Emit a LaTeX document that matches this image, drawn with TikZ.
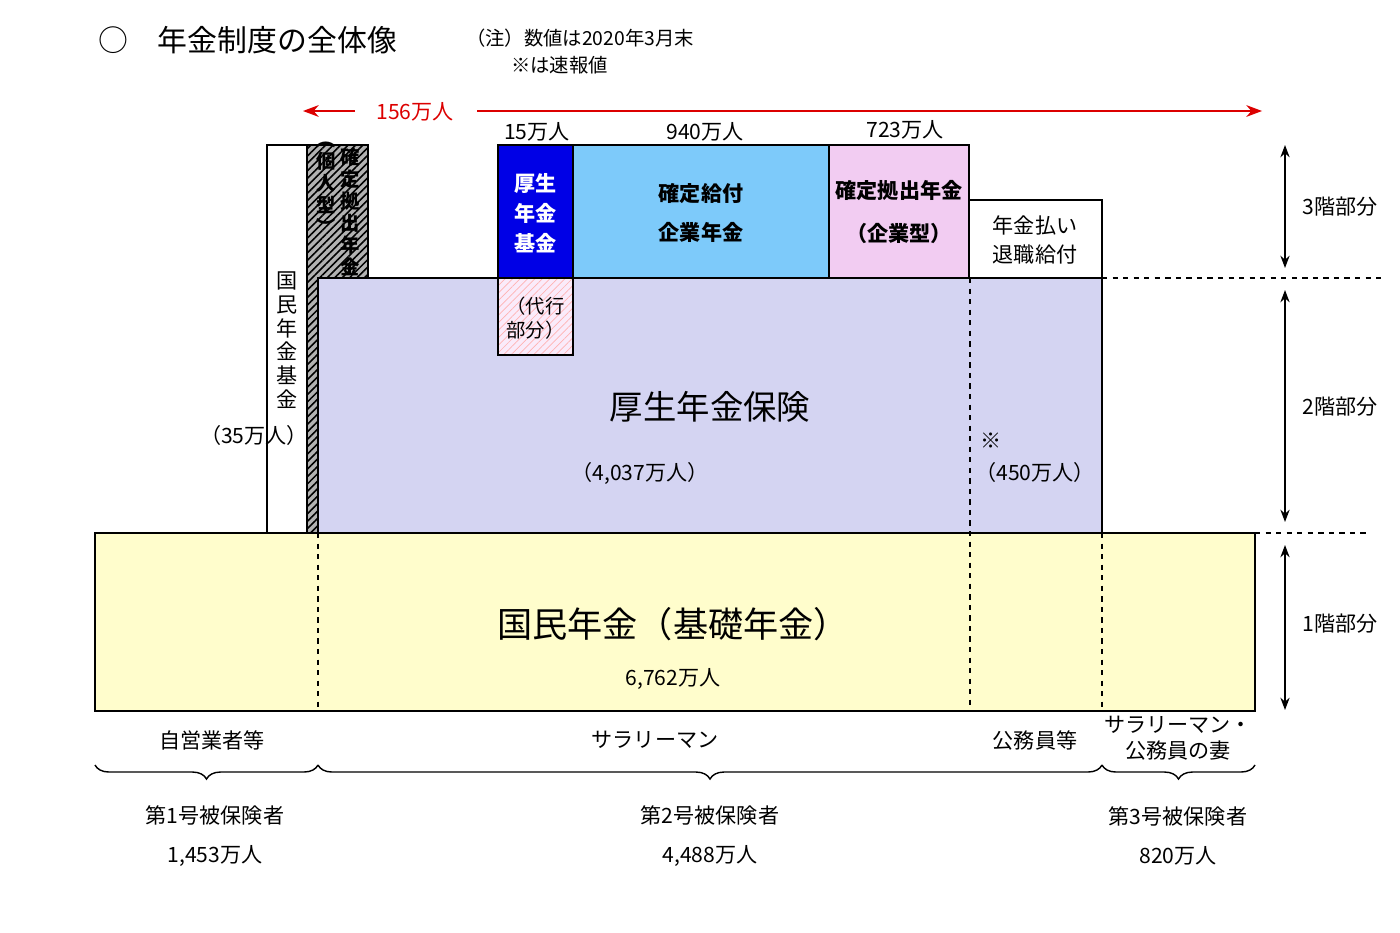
\documentclass[tikz,border=0pt]{standalone}
\usepackage{fontspec}
\setmainfont{Noto Sans CJK JP}
\usetikzlibrary{positioning,patterns.meta,decorations.pathreplacing,arrows.meta}

\definecolor{lav}{RGB}{212,212,242}
\definecolor{yel}{RGB}{255,253,204}
\definecolor{dbblue}{RGB}{0,0,230}
\definecolor{dbsky}{RGB}{125,202,250}
\definecolor{dcpink}{RGB}{242,204,242}
\definecolor{arrred}{RGB}{220,0,0}

\tikzset{
  box/.style={draw, line width=0.8pt},
  lbl/.style={font=\fontsize{12}{14}\selectfont, inner sep=1pt},
  big/.style={font=\fontsize{20}{24}\selectfont},
  vtext/.style={font=\fontsize{12}{13.5}\selectfont, align=center, inner sep=0pt},
  dline/.style={dashed, line width=0.6pt},
  level/.style={{Stealth[length=7pt]}-{Stealth[length=7pt]}, line width=0.8pt},
  grp/.style={decorate, decoration={brace, mirror, amplitude=8pt}, line width=0.8pt},
}

\begin{document}
\begin{tikzpicture}[x=0.02cm, y=-0.02cm]
  \useasboundingbox (0,0) rectangle (1400,933);

  % Title and note
  \node[anchor=west, font=\fontsize{17}{20}\selectfont] (title) at (92,40) {○\quad 年金制度の全体像};
  \node[anchor=west, font=\fontsize{11}{13}\selectfont] (note1) at (460,38) {（注）数値は2020年3月末};
  \node[anchor=west, font=\fontsize{11}{13}\selectfont] (note2) at (505,65) {※は速報値};

  % Total width
  \coordinate (tl) at (303,111);
  \coordinate (tr) at (1262,111);
  \draw[-{Stealth[length=9pt]}, arrred, line width=0.8pt] (355,111) -- (tl);
  \draw[-{Stealth[length=9pt]}, arrred, line width=0.8pt] (477,111) -- (tr);
  \node[lbl, text=arrred] (total) at (415,112) {156万人};

  % Floor 1
  \draw[box, fill=yel] (95,533) rectangle (1255,711);
  \node[big] (kiso) at (673,624) {国民年金（基礎年金）};
  \node[lbl] (kisoN) at (673,679) {6,762万人};

  % Floor 2 and left columns
  \draw[box, fill=white] (267,145) rectangle (307,533);
  \draw[box, fill=gray!60] (307,145) rectangle (368,533);
  \fill[pattern={Lines[angle=45, distance=3pt, line width=0.9pt]}] (307,145) rectangle (368,533);
  \draw[box] (307,145) rectangle (368,533);
  \draw[box, fill=lav] (318,278) rectangle (1102,533);
  \node[vtext] (kokumin) at (287,340) {国\\民\\年\\金\\基\\金};
  \node[lbl] (kokuminN) at (254,435) {（35万人）};
  \node[vtext, font=\bfseries\fontsize{11}{12.5}\selectfont] (idecoA) at (350,212) {確\\定\\拠\\出\\年\\金};
  \node[vtext, font=\bfseries\fontsize{11}{12.5}\selectfont] (idecoB) at (326,188) {︵\\個\\人\\型\\︶};
  \node[big, font=\fontsize{19}{22}\selectfont] (kousei) at (710,407) {厚生年金保険};
  \node[lbl] (kouseiN) at (640,473) {（4,037万人）};
  \node[lbl] (kome) at (991,441) {※};
  \node[lbl] (koumuN) at (1035,472) {（450万人）};

  % Dashed splits
  \draw[dline] (970,278) -- (970,711);
  \draw[dline] (318,533) -- (318,711);
  \draw[dline] (1102,533) -- (1102,711);

  % Floor 3
  \draw[box, fill=dbblue] (498,145) rectangle (573,278);
  \node[vtext, text=white, font=\bfseries\fontsize{12}{17}\selectfont] (kikin) at (535.5,213) {厚生\\年金\\基金};
  \draw[box, fill=dcpink!40] (498,278) rectangle (573,355);
  \fill[pattern={Lines[angle=45, distance=3pt, line width=0.4pt]}, pattern color=red!30] (498,278) rectangle (573,355);
  \draw[box] (498,278) rectangle (573,355);
  \node[vtext, font=\fontsize{11}{14}\selectfont] (daikou) at (535.5,318) {（代行\\部分）};
  \draw[box, fill=dbsky] (573,145) rectangle (829,278);
  \node[vtext, font=\bfseries\fontsize{12}{22}\selectfont] (db) at (701,213) {確定給付\\企業年金};
  \draw[box, fill=dcpink] (829,145) rectangle (969,278);
  \node[vtext, font=\bfseries\fontsize{12}{24}\selectfont] (dc) at (899,212) {確定拠出年金\\（企業型）};
  \draw[box, fill=white] (969,200) rectangle (1102,278);
  \node[vtext, font=\fontsize{12}{16}\selectfont] (taishoku) at (1035,240) {年金払い\\退職給付};
  \node[lbl] (kikinN) at (537,132) {15万人};
  \node[lbl] (dbN) at (705,132) {940万人};
  \node[lbl] (dcN) at (905,130) {723万人};

  % Levels
  \draw[dline] (1102,278) -- (1385,278);
  \draw[dline] (1255,533) -- (1370,533);
  \draw[level] (1285,145) -- (1285,268);
  \draw[level] (1285,290) -- (1285,522);
  \draw[level] (1285,545) -- (1285,710);
  \node[lbl] (lv3) at (1340,207) {3階部分};
  \node[lbl] (lv2) at (1340,407) {2階部分};
  \node[lbl] (lv1) at (1340,624) {1階部分};

  % Insured groups
  \node[lbl] (jiei) at (212,740) {自営業者等};
  \node[lbl] (salary) at (655,740) {サラリーマン};
  \node[lbl] (koumu) at (1035,740) {公務員等};
  \node[vtext, font=\fontsize{12}{15}\selectfont] (tsuma) at (1178,738) {サラリーマン・\\公務員の妻};
  \draw[grp] (95,765) -- (318,765);
  \draw[grp] (318,765) -- (1102,765);
  \draw[grp] (1102,765) -- (1255,765);
  \node[vtext, font=\fontsize{12}{22}\selectfont] (g1) at (215,836) {第1号被保険者\\1,453万人};
  \node[vtext, font=\fontsize{12}{22}\selectfont] (g2) at (710,836) {第2号被保険者\\4,488万人};
  \node[vtext, font=\fontsize{12}{22}\selectfont] (g3) at (1178,836) {第3号被保険者\\820万人};
\end{tikzpicture}
\end{document}
